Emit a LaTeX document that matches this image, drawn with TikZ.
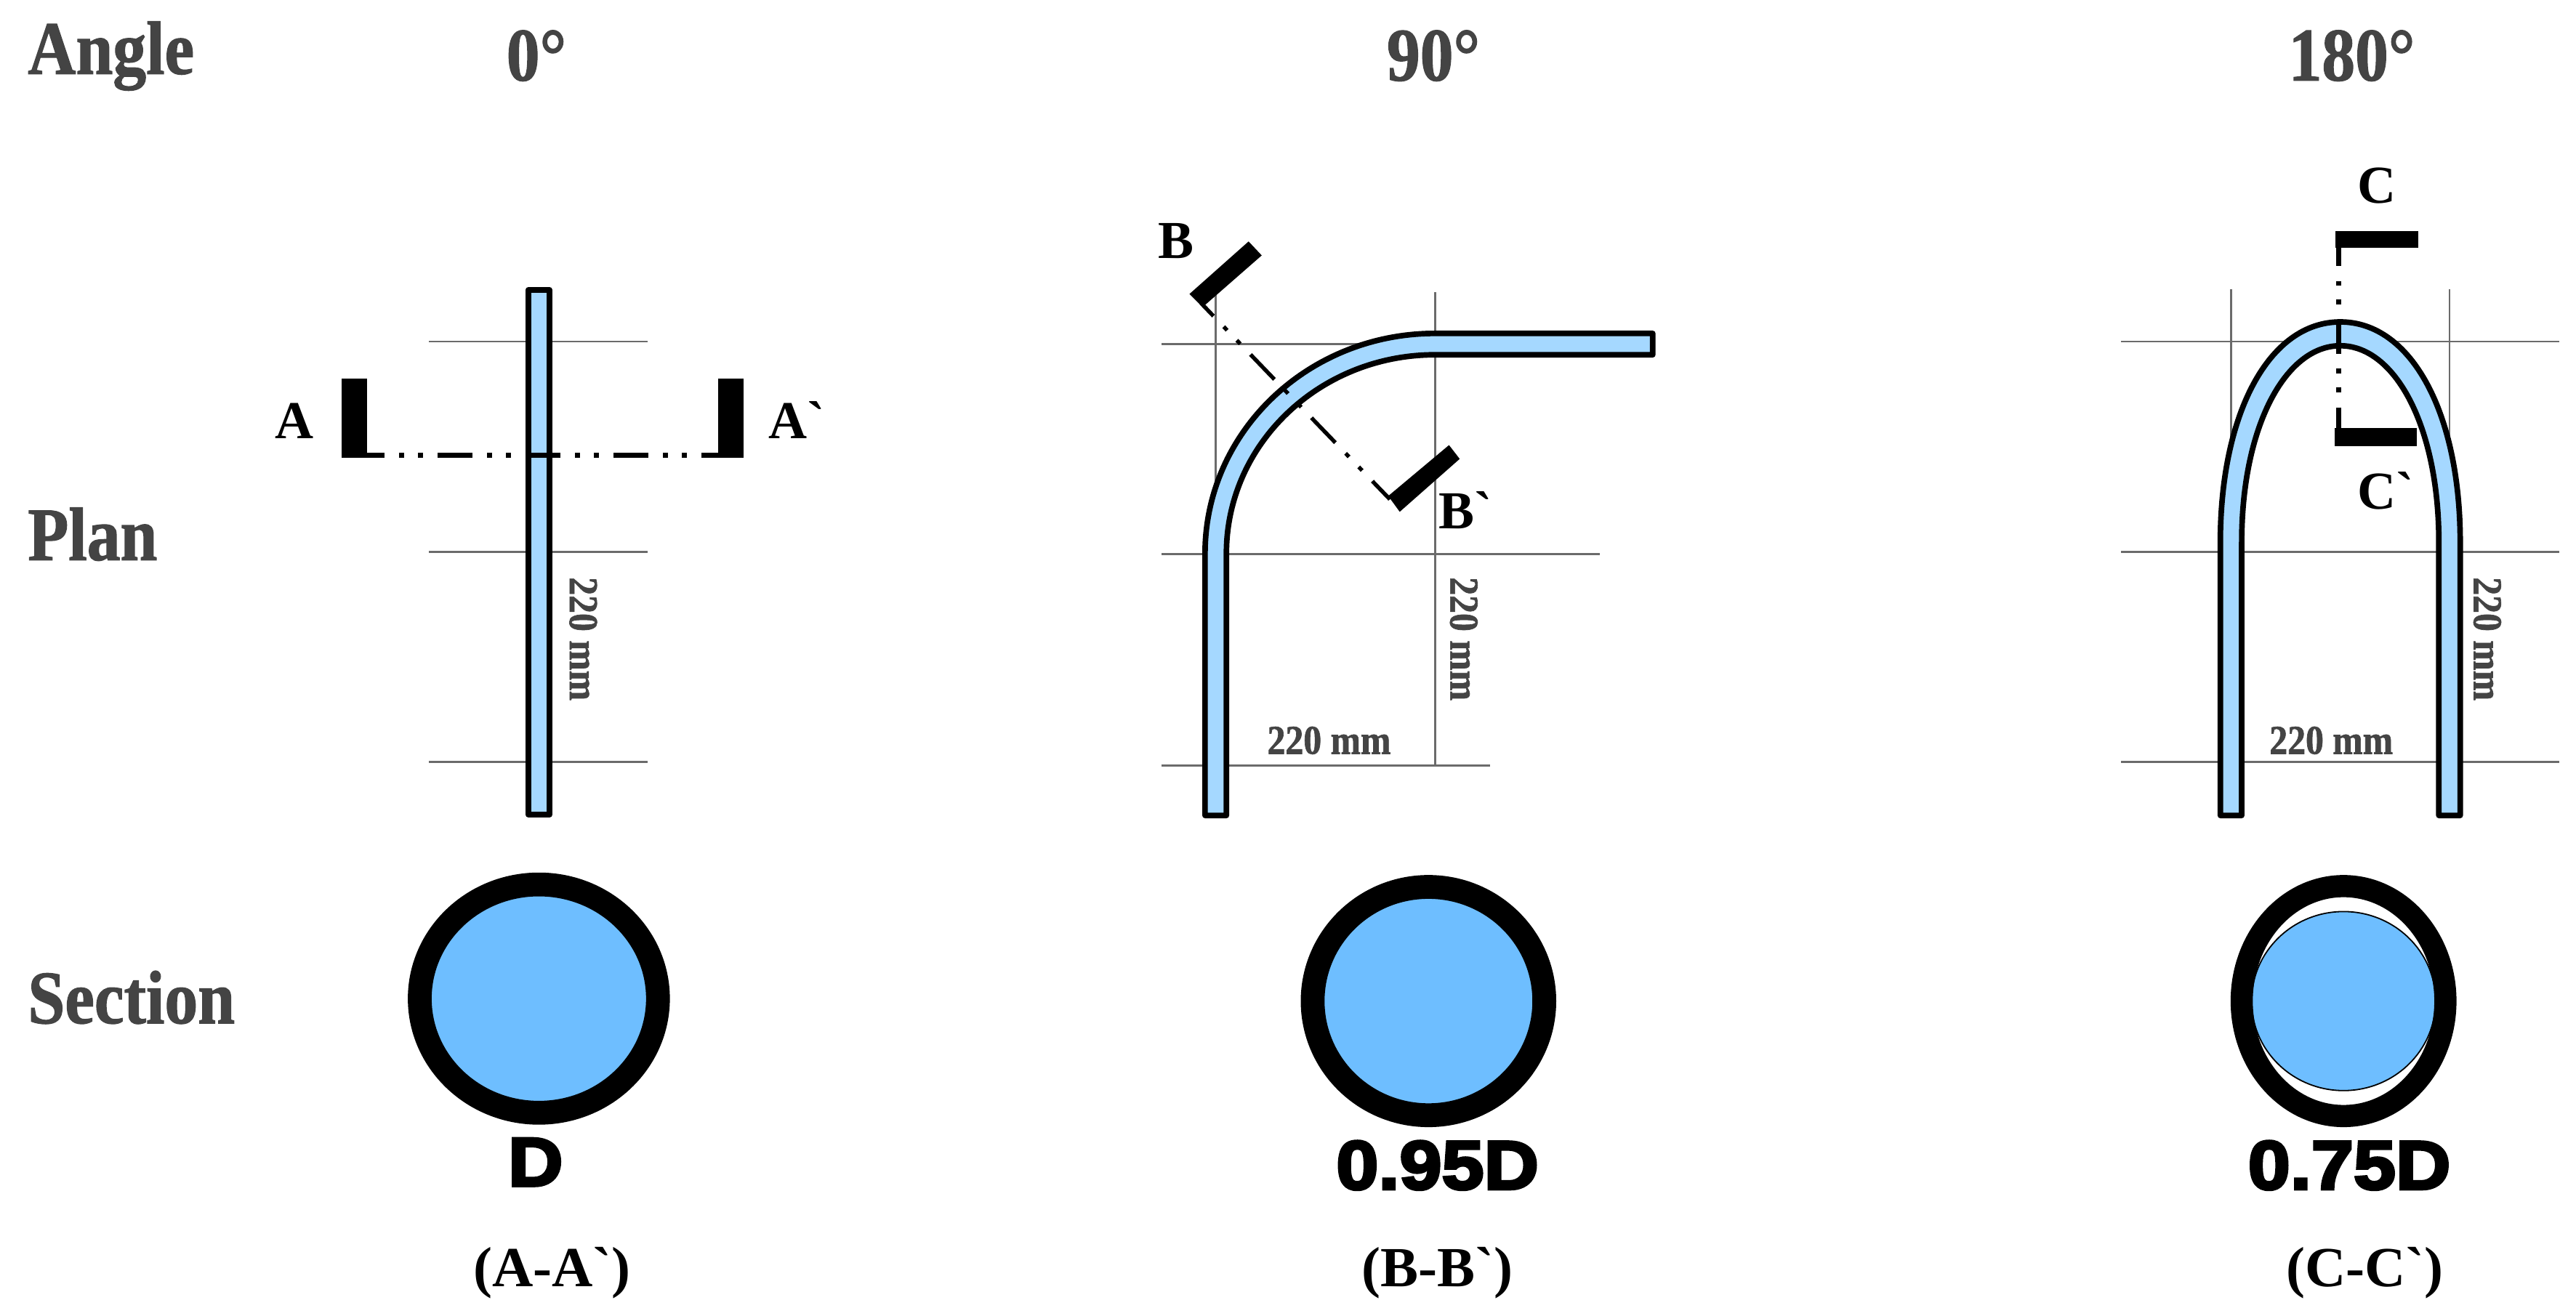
\documentclass[tikz,border=0pt]{standalone}
\usepackage{fontspec}
\newfontfamily\headfont{Liberation Serif}[BoldFeatures={FakeBold=1.2,FakeStretch=0.88}]
\newfontfamily\markfont{Liberation Serif}
\newfontfamily\sizefont{Liberation Sans}[BoldFeatures={FakeBold=4,FakeStretch=1.1}]
\definecolor{pipeblue}{HTML}{A5D8FF}
\definecolor{flowblue}{HTML}{6EBEFF}
\definecolor{headgray}{HTML}{444444}
\begin{document}
\begin{tikzpicture}[
        x=1pt, y=-1pt,
        every node/.style={inner sep=0pt, outer sep=0pt},
        head/.style={font=\headfont\bfseries\fontsize{46}{46}\selectfont, text=headgray},
        dimtext/.style={font=\headfont\bfseries\fontsize{25}{25}\selectfont, text=headgray},
        marktext/.style={font=\markfont\bfseries\fontsize{32.5}{32.5}\selectfont},
        captext/.style={font=\markfont\bfseries\fontsize{34.5}{34.5}\selectfont},
        sizetext/.style={font=\sizefont\bfseries\fontsize{42}{42}\selectfont},
        gridline/.style={draw=black!58, line width=1.2pt},
        pipe/.style={draw=black, fill=pipeblue, line width=3.4pt, line join=round},
        cutline/.style={draw=black, line width=#1, dash pattern=on 21pt off 9pt on 3pt off 8.5pt on 3pt off 9pt},
        cutline/.default=3pt,
        ring/.style={draw=black, line width=14.5pt}
    ]
    \useasboundingbox (0,0) rectangle (1568,801.25);
    % row and column titles
    \node[head, anchor=base west] (angle) at (17,45) {Angle};
    \node[head, anchor=base west] (plan) at (17,341) {Plan};
    \node[head, anchor=base west] (section) at (17,623) {Section};
    \node[head, anchor=base] (deg0) at (326.5,49) {0°};
    \node[head, anchor=base] (deg90) at (872.5,49) {90°};
    \node[head, anchor=base] (deg180) at (1431.5,49) {180°};

    % 0 degrees
    \foreach \y in {208,336,464}
        \draw[gridline] (261,\y) -- (394,\y);
    \draw[pipe] (321.5,176.5) rectangle (334.5,496);
    \fill (208,230.5) rectangle (223.5,278.7);
    \fill (437,230.5) rectangle (452.5,278.7);
    \coordinate (cutA) at (223,277.2);
    \coordinate (cutAp) at (437,277.2);
    \draw[cutline, dash phase=10pt] (cutA) -- (cutAp);
    \node[marktext, anchor=base] (markA) at (179,267) {A};
    \node[marktext, anchor=base west] (markAp) at (468,267) {A`};
    \node[dimtext, rotate=-90] (dimA) at (355,389) {220 mm};

    % 90 degrees
    \draw[gridline] (707,209.5) -- (873.5,209.5);
    \draw[gridline] (707,337.5) -- (974,337.5);
    \draw[gridline] (707,466) -- (907,466);
    \draw[gridline] (740,178) -- (740,337.5);
    \draw[gridline] (873.5,178) -- (873.5,466);
    \draw[pipe] (733.5,496.5) -- (733.5,337)
        arc[start angle=180, end angle=270, x radius=140, y radius=134]
        -- (1006,203) -- (1006,216) -- (873.5,216)
        arc[start angle=270, end angle=180, x radius=127, y radius=121]
        -- (746.5,496.5) -- cycle;
    \fill (724,179) -- (760,147) -- (768,155.5) -- (732,187) -- cycle;
    \fill (845,302) -- (882,271) -- (888.5,279.4) -- (852,311.6) -- cycle;
    \coordinate (cutB) at (731,184.5);
    \coordinate (cutBp) at (846,304);
    \draw[cutline=2.4pt, dash phase=10pt] (cutB) -- (cutBp);
    \node[marktext, anchor=base west] (markB) at (705,157.5) {B};
    \node[marktext, anchor=base west] (markBp) at (876,322) {B`};
    \node[dimtext, rotate=-90] (dimBv) at (891,389) {220 mm};
    \node[dimtext, anchor=base] (dimBh) at (809,459) {220 mm};

    % 180 degrees
    \foreach \y in {208,336,464}
        \draw[gridline] (1291,\y) -- (1558,\y);
    \draw[gridline] (1358,176) -- (1358,300);
    \draw[gridline] (1491,176) -- (1491,300);
    \draw[pipe] (1351.5,496.5) -- (1351.5,330)
        .. controls (1351.5,252) and (1381,196) .. (1424.5,196)
        .. controls (1468,196) and (1497.5,252) .. (1497.5,330)
        -- (1497.5,496.5) -- (1484.5,496.5) -- (1484.5,330)
        .. controls (1484.5,260) and (1458,210.5) .. (1424.5,210.5)
        .. controls (1391,210.5) and (1364.5,260) .. (1364.5,330)
        -- (1364.5,496.5) -- cycle;
    \fill (1421.7,140.7) rectangle (1472,151);
    \fill (1421,260.5) rectangle (1471,271.5);
    \coordinate (cutC) at (1423.5,151);
    \coordinate (cutCp) at (1423.5,261);
    \draw[cutline, dash phase=10pt] (cutC) -- (cutCp);
    \node[marktext, anchor=base west] (markC) at (1435,123.5) {C};
    \node[marktext, anchor=base west] (markCp) at (1435,310) {C`};
    \node[dimtext, rotate=-90] (dimCv) at (1514,389) {220 mm};
    \node[dimtext, anchor=base] (dimCh) at (1419,459) {220 mm};

    % sections
    \filldraw[ring, fill=flowblue] (328,608) ellipse [x radius=72.5, y radius=69.5];
    \filldraw[ring, fill=flowblue] (869.5,609.5) ellipse [x radius=70.5, y radius=69.5];
    \draw[draw=black, fill=flowblue, line width=0.8pt] (1426.5,609.5) ellipse [x radius=56, y radius=54.5];
    \draw[ring, line width=13.5pt] (1426.5,609.5) ellipse [x radius=62, y radius=70];
    \node[sizetext, anchor=base] (sizeA) at (326,722) {D};
    \node[sizetext, anchor=base] (sizeB) at (875,724) {0.95D};
    \node[sizetext, anchor=base] (sizeC) at (1430,724) {0.75D};
    \node[captext, anchor=base] (capA) at (336,783.5) {(A-A`)};
    \node[captext, anchor=base] (capB) at (875,783.5) {(B-B`)};
    \node[captext, anchor=base] (capC) at (1439.5,783.5) {(C-C`)};
\end{tikzpicture}
\end{document}
